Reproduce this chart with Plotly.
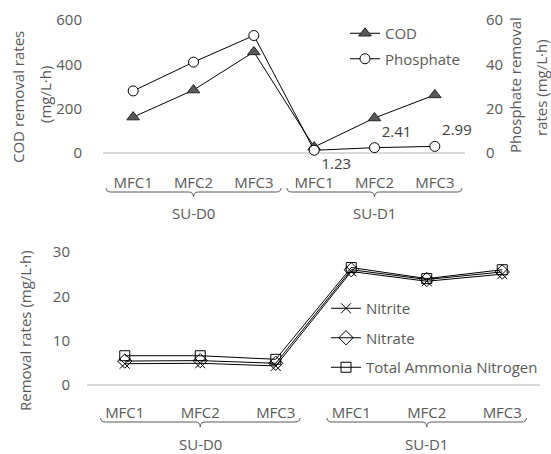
import plotly.graph_objects as go

# ---------------- data ----------------
groups = ["SU-D0", "SU-D1"]
cells = ["MFC1", "MFC2", "MFC3"]

cod = [162, 284, 456, 27, 158, 262]
phosphate = [28.0, 41.0, 53.0, 1.23, 2.41, 2.99]

nitrite = [4.8, 4.9, 4.3, 25.6, 23.4, 25.0]
nitrate = [5.4, 5.5, 4.9, 26.0, 23.8, 25.5]
tan = [6.6, 6.6, 5.8, 26.5, 24.0, 26.0]

cod_ticks = [0, 200, 400, 600]
phos_ticks = [0, 20, 40, 60]
n_ticks = [0, 10, 20, 30]

# ---------------- helpers ----------------
W, H = 551, 454
FONT = "Open Sans"
GREY = "#595959"


def px_x(p):
    return p / W


def px_y(p):
    return 1 - p / H


labels = [c for g in groups for c in cells]
xs = list(range(len(labels)))
group_centers = [i * len(cells) + (len(cells) - 1) / 2 for i in range(len(groups))]

fig = go.Figure()

# ---------------- top chart ----------------
fig.add_trace(go.Scatter(
    x=xs, y=cod, name="COD", mode="lines+markers",
    line=dict(color="black", width=1),
    marker=dict(symbol="triangle-up", size=11, color="#595959",
                line=dict(color="#262626", width=1)),
    xaxis="x", yaxis="y", legend="legend", legendgroup="a", cliponaxis=False,
))
phos_text = ["" for _ in range(3)] + [f"{v:.2f}" for v in phosphate[3:]]
fig.add_trace(go.Scatter(
    x=xs, y=phosphate, name="Phosphate", mode="lines+markers+text",
    text=phos_text,
    textposition=["top right"] * 3 + ["bottom right", "top right", "top right"],
    textfont=dict(family=FONT, size=15, color="#404040"),
    line=dict(color="black", width=1),
    marker=dict(symbol="circle", size=10, color="white",
                line=dict(color="black", width=1)),
    xaxis="x", yaxis="y2", legend="legend", legendgroup="b", cliponaxis=False,
))

# ---------------- bottom chart ----------------
fig.add_trace(go.Scatter(
    x=xs, y=nitrite, name="Nitrite", mode="lines+markers",
    line=dict(color="black", width=1),
    marker=dict(symbol="x-thin-open", size=10, color="black",
                line=dict(color="black", width=1)),
    xaxis="x2", yaxis="y3", legend="legend2", legendgroup="c", cliponaxis=False,
))
fig.add_trace(go.Scatter(
    x=xs, y=nitrate, name="Nitrate", mode="lines+markers",
    line=dict(color="black", width=1),
    marker=dict(symbol="diamond-open", size=11, color="black",
                line=dict(color="black", width=1)),
    xaxis="x2", yaxis="y3", legend="legend2", legendgroup="d", cliponaxis=False,
))
fig.add_trace(go.Scatter(
    x=xs, y=tan, name="Total Ammonia Nitrogen", mode="lines+markers",
    line=dict(color="black", width=1),
    marker=dict(symbol="square-open", size=10, color="black",
                line=dict(color="black", width=1)),
    xaxis="x2", yaxis="y3", legend="legend2", legendgroup="e", cliponaxis=False,
))

tickfont = dict(family=FONT, size=15, color=GREY)

xcommon = dict(range=[-0.5, len(labels) - 0.5], tickmode="array", tickvals=xs,
               ticktext=labels, showgrid=False, zeroline=False, showline=False,
               ticks="", tickfont=tickfont, fixedrange=True, automargin=False)

fig.update_layout(
    width=W, height=H,
    margin=dict(l=0, r=0, t=0, b=0),
    paper_bgcolor="white", plot_bgcolor="white",
    font=dict(family=FONT, size=15, color=GREY),
    showlegend=True,
    xaxis=dict(domain=[px_x(103), px_x(465)], anchor="y", ticklabelstandoff=19, **xcommon),
    yaxis=dict(domain=[px_y(153), px_y(20)], range=[0, 600], tickvals=cod_ticks,
               showgrid=False, zeroline=True, zerolinecolor="#d9d9d9", zerolinewidth=1.5,
               showline=False, ticks="", tickfont=tickfont, ticklabelstandoff=20,
               anchor="x", automargin=False),
    yaxis2=dict(range=[0, 60], tickvals=phos_ticks, overlaying="y", side="right",
                showgrid=False, zeroline=False, showline=False, ticks="",
                tickfont=tickfont, ticklabelstandoff=20, anchor="x", automargin=False),
    xaxis2=dict(domain=[px_x(87), px_x(540)], anchor="y3", ticklabelstandoff=17, **xcommon),
    yaxis3=dict(domain=[px_y(385), px_y(252)], range=[0, 30], tickvals=n_ticks,
                showgrid=False, zeroline=True, zerolinecolor="#d9d9d9", zerolinewidth=1.5,
                showline=False, ticks="", tickfont=tickfont, ticklabelstandoff=16,
                anchor="x2", automargin=False),
    legend=dict(x=px_x(345), y=px_y(17), xanchor="left", yanchor="top",
                bgcolor="rgba(0,0,0,0)", font=dict(family=FONT, size=15, color=GREY),
                tracegroupgap=3, itemwidth=30),
    legend2=dict(x=px_x(326), y=px_y(292), xanchor="left", yanchor="top",
                 bgcolor="rgba(0,0,0,0)", font=dict(family=FONT, size=15, color=GREY),
                 tracegroupgap=7, itemwidth=30),
)


# ---------------- braces & group labels ----------------
def brace_path(xc, half, y_line_px, dx):
    x0, x1 = xc - half, xc + half
    ye = px_y(y_line_px - 4)
    yl = px_y(y_line_px)
    yt = px_y(y_line_px + 5)
    return (f"M {x0},{ye} Q {x0},{yl} {x0 + dx},{yl} L {xc - dx},{yl} "
            f"Q {xc},{yl} {xc},{yt} Q {xc},{yl} {xc + dx},{yl} "
            f"L {x1 - dx},{yl} Q {x1},{yl} {x1},{ye}")


shapes = []
annotations = []
for xref, half, yline, ylab, dx in (("x", 1.45, 192, 213, 0.08), ("x2", 1.32, 422, 444, 0.065)):
    for gc, g in zip(group_centers, groups):
        shapes.append(dict(type="path", xref=xref, yref="paper",
                           path=brace_path(gc, half, yline, dx),
                           line=dict(color=GREY, width=1)))
        annotations.append(dict(x=gc, y=px_y(ylab), xref=xref, yref="paper",
                                text=g, showarrow=False, xanchor="center", yanchor="middle",
                                font=dict(family=FONT, size=15, color=GREY)))

# axis titles
for text, xp, yp in (("COD removal rates", 18, 97), ("(mg/L·h)", 45, 95),
                     ("Phosphate removal", 515, 85), ("rates (mg/L·h)", 541, 88),
                     ("Removal rates (mg/L·h)", 25, 331)):
    annotations.append(dict(x=px_x(xp), y=px_y(yp), xref="paper", yref="paper",
                            text=text, textangle=-90, showarrow=False,
                            xanchor="center", yanchor="middle",
                            font=dict(family=FONT, size=15, color=GREY)))

fig.update_layout(shapes=shapes, annotations=annotations)

fig.write_html("out.html", config={"displayModeBar": False},
               post_script="document.body.style.margin='0px';")
